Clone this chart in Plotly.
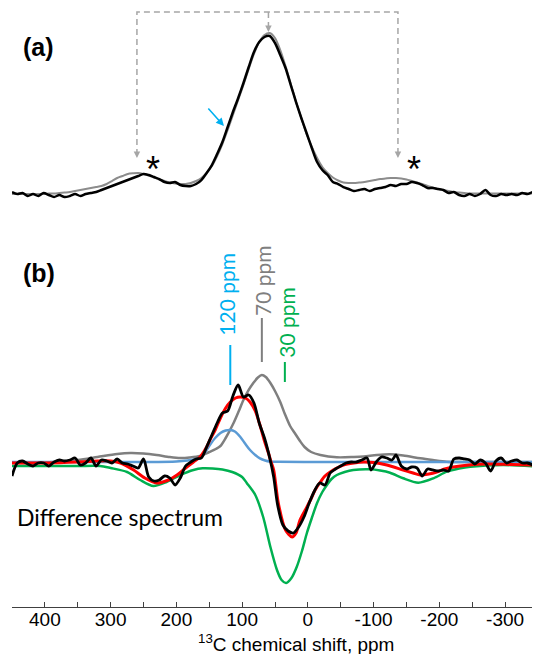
import plotly.graph_objects as go

# ---------------- data (ppm, intensity in arbitrary units) ----------------
# Panel (a): measured spectrum (black) and fitted spectrum (gray)
ppm_a = [450, 442, 434, 426, 418, 410, 402, 394, 386, 378,
         370, 362, 354, 346, 338, 330, 322, 314, 306, 298,
         290, 282, 274, 266, 258, 250, 242, 234, 226, 218,
         210, 202, 194, 186, 178, 170, 162, 154, 146, 138,
         130, 122, 114, 106, 98, 90, 82, 74, 66, 58,
         50, 42, 34, 26, 18, 10, 2, -6, -14, -22,
         -30, -38, -46, -54, -62, -70, -78, -86, -94, -102,
         -110, -118, -126, -134, -142, -150, -158, -166, -174, -182,
         -190, -198, -206, -214, -222, -230, -238, -246, -254, -262,
         -270, -278, -286, -294, -302, -310, -318, -326, -334, -342,
         -350]
measured_a = [1, -1, 0, -3, -1, -3, 0, -2, -4, -2,
              -4, -3, -1, -3, -1, 0, 1, 3, 5, 7,
              9, 11, 13, 15, 17, 19, 18, 16, 14, 11,
              10, 11, 8, 7, 7, 9, 13, 20, 28, 39,
              51, 66, 81, 95, 110, 126, 141, 151, 156, 157,
              150, 138, 125, 108, 91, 75, 60, 45, 31, 23,
              18, 11, 9, 6, 4, 2, 3, 4, 2, 4,
              5, 6, 8, 7, 9, 9, 11, 10, 8, 5,
              5, 4, 3, 0, 1, -2, -3, -1, -3, -1,
              3, -2, -3, -1, -2, -1, -2, 0, -1, 1,
              0]
fit_a = [-1, -1, -1, -1, -1, -1, -1, -0.5, -0.5, 0,
         0.5, 1, 2, 3, 4, 5, 6, 7, 9, 12,
         15, 17, 19, 19.7, 20, 19, 17.5, 15.5, 13.5, 12,
         10.5, 9.5, 9, 9, 10, 12, 15, 20, 27, 37,
         49, 63, 78, 93, 108, 124, 139, 151, 158, 160,
         155, 143, 127, 109, 91, 75, 59, 46, 35, 26,
         20, 15.5, 12.5, 10.5, 10, 10, 10.5, 11, 12, 13,
         14, 14.5, 15, 15, 14.5, 13.5, 12, 10.5, 9, 7,
         5.5, 4, 3, 2, 1, 0.5, 0, -0.5, -0.5, -0.5,
         -0.5, -0.5, -0.5, -0.5, -0.5, -0.5, -0.5, -0.5, -0.5, -0.5,
         -0.5]

# Panel (b): difference spectrum (black) and its components
diff_ppm = [450, 442, 434, 426, 418, 410, 402, 394, 386, 378,
            370, 362, 354, 346, 338, 330, 322, 314, 306, 298,
            290, 282, 274, 266, 258, 250, 242, 234, 226, 218,
            210, 202, 194, 186, 178, 170, 162, 154, 146, 138,
            130, 122, 114, 106, 98, 90, 82, 74, 66, 58,
            52, 46, 38, 30, 22, 14, 6, -2, -10, -18,
            -26, -34, -42, -50, -58, -66, -74, -82, -90,
            -96, -104, -112, -120, -128, -134, -142, -150, -158, -166,
            -174, -182, -190, -198, -206, -214, -222, -230, -238, -246,
            -254, -262, -270, -278, -286, -294, -302, -310, -318, -326,
            -334, -342, -350]
diff_int = [-13, 0, 2, -1, -3, 0, 0, -3, 1, 3,
            2, 3, 5, -2, 0, 5, -3, 3, 2, 0,
            4, 0, -1, -3, -5, 4, -14, -18, -17, -13,
            -15, -22, -15, -3, 1, 4, 5, 16, 28, 40,
            50, 52, 67, 78, 66, 68, 60, 40, 25, 5,
            -14, -42, -62, -68, -70, -64, -54, -40, -28, -20,
            -22, -10, -6, -3, 0, 1, 1, 3, 5,
            -7, 1, 6, 5, 3, 8, -3, -6, -4, -5,
            -13, -6, -7, -8, -7, -8, 4, 5, 4, 3,
            -1, 3, 0, -8, 2, 5, 0, 2, 3, 0,
            0, -2, -6]

sum_ppm = [450, 400, 350, 320, 300, 285, 265, 248, 230, 212,
           199, 186, 174, 164, 154, 149, 141, 133, 125, 118,
           110, 103, 95, 88, 80, 72, 66, 60, 56, 52,
           45, 34, 24, 18, 12, 4, -4, -11, -19, -26,
           -34, -44, -54, -70, -85, -100, -120, -145, -160, -171,
           -184, -196, -208, -221, -245, -272, -310, -350]
sum_int = [0, 0, 1, 2, 2, 0, -7, -15, -20, -17,
           -12, -5, 1, 6, 16, 23, 33, 45, 55, 61,
           65, 66, 65, 61, 52, 36, 22, 10, 1, -7,
           -40, -67, -74, -70, -57, -47, -37, -27, -19, -13,
           -9, -5, -2, 0, 1, 0.5, -2, -7, -10, -12,
           -11, -9, -6, -4, -2, -1, -1.5, -2]

c70_ppm = [450, 400, 350, 320, 290, 270, 250, 230, 210, 194,
           180, 164, 150, 140, 133, 125, 113, 105, 98, 90,
           83, 76, 70, 64, 57, 50, 42, 35, 27, 20,
           12, 5, -5, -19, -44, -70, -85, -105, -125, -145,
           -171, -190, -211, -250, -350]
c70_int = [0, 0.5, 3, 6, 9, 10, 9.5, 8, 6, 5,
           5.5, 7, 11, 14, 17, 25, 40, 52, 63, 73,
           80, 85.5, 88, 86, 80, 72, 61, 49, 37, 30,
           22, 16, 11, 8, 5.7, 6, 6.5, 8, 8.7, 7.5,
           4.7, 3, 1.3, 1, 1]

c120_ppm = [450, 250, 200, 183, 170, 164, 156, 149, 141, 133,
            125, 118, 111, 103, 95, 88, 80, 73, 65, 58,
            45, 0, -350]
c120_int = [1, 1, 1.5, 2.5, 4, 5.5, 11, 18, 25, 30,
            32.5, 33, 31.5, 26.3, 19, 13, 8, 4.7, 2.5, 1.5,
            1.2, 1, 1]

c30_ppm = [450, 400, 350, 316, 300, 275, 255, 235, 215, 194,
           174, 160, 145, 130, 115, 100, 93, 80, 68, 57,
           47, 40, 33, 25, 17, 9, 1.5, -6, -14, -22,
           -29, -36, -44, -56, -69, -95, -110, -125, -145, -168,
           -191, -211, -230, -247, -297, -350]
c30_int = [-3, -3, -3, -3, -5, -9, -17, -23, -19, -12,
           -7, -5.3, -5.5, -6.5, -9, -14, -20, -32, -54, -84,
           -107, -117, -120, -115, -104, -88, -70, -55, -40, -29,
           -22, -16, -12, -9, -7, -6.3, -7.5, -9.7, -15.3, -19.7,
           -15.3, -8.7, -5.5, -3.7, -2, -3.7]

tick_vals = [400, 350, 300, 250, 200, 150, 100, 50, 0, -50, -100, -150, -200, -250, -300]
tick_text = ["400", "", "300", "", "200", "", "100", "", "0", "", "-100", "", "-200", "", "-300"]

# centre band and the two spinning sidebands marked in panel (a)
band_ppm = [260, 60, -137]
label_ppm = [120, 70, 30]

# ---------------- styles ----------------
BLACK = "#000000"
GRAY_A = "#8c8c8c"
GRAY = "#7f7f7f"
RED = "#ff0000"
BLUE_C = "#5b9bd5"
GREEN = "#00b050"
CYAN = "#00b0f0"
DASH = "#a6a6a6"
LATO = "Lato, Carlito, Calibri, sans-serif"
ARIAL = "Arial, Liberation Sans, sans-serif"

fig = go.Figure()

# panel (a)
fig.add_trace(go.Scatter(x=ppm_a, y=fit_a, mode="lines", xaxis="x", yaxis="y2",
                         line=dict(color=GRAY_A, width=2, shape="spline", smoothing=0.8)))
fig.add_trace(go.Scatter(x=ppm_a, y=measured_a, mode="lines", xaxis="x", yaxis="y2",
                         line=dict(color=BLACK, width=2.5, shape="spline", smoothing=0.8)))

# panel (b)
fig.add_trace(go.Scatter(x=c70_ppm, y=c70_int, mode="lines", xaxis="x", yaxis="y",
                         line=dict(color=GRAY, width=2.5, shape="spline", smoothing=0.8)))
fig.add_trace(go.Scatter(x=c120_ppm, y=c120_int, mode="lines", xaxis="x", yaxis="y",
                         line=dict(color=BLUE_C, width=2.5, shape="spline", smoothing=0.8)))
fig.add_trace(go.Scatter(x=c30_ppm, y=c30_int, mode="lines", xaxis="x", yaxis="y",
                         line=dict(color=GREEN, width=2.5, shape="spline", smoothing=0.8)))
fig.add_trace(go.Scatter(x=sum_ppm, y=sum_int, mode="lines", xaxis="x", yaxis="y",
                         line=dict(color=RED, width=3, shape="spline", smoothing=0.8)))
fig.add_trace(go.Scatter(x=diff_ppm, y=diff_int, mode="lines", xaxis="x", yaxis="y",
                         line=dict(color=BLACK, width=2.8, shape="spline", smoothing=0.8)))

shapes = []
top_a = 181
# dashed connector above panel (a)
shapes.append(dict(type="path", xref="x", yref="y2",
                   path=f"M {band_ppm[0]},38 L {band_ppm[0]},{top_a} L {band_ppm[2]},{top_a} L {band_ppm[2]},38",
                   line=dict(color=DASH, width=1.5, dash="6px,4px")))
shapes.append(dict(type="line", xref="x", yref="y2", x0=band_ppm[1], x1=band_ppm[1], y0=top_a, y1=164,
                   line=dict(color=DASH, width=1.5, dash="6px,4px")))
# label tick lines in panel (b)
shapes.append(dict(type="line", xref="x", yref="y", x0=118, x1=118, y0=78, y1=118,
                   line=dict(color=CYAN, width=2)))
shapes.append(dict(type="line", xref="x", yref="y", x0=70, x1=70, y0=101, y1=145,
                   line=dict(color=GRAY, width=2)))
shapes.append(dict(type="line", xref="x", yref="y", x0=35, x1=35, y0=81, y1=101,
                   line=dict(color=GREEN, width=2)))

ann = []
# arrowheads of the dashed connector
for p, ytip in [(band_ppm[0], 35), (band_ppm[1], 161), (band_ppm[2], 35)]:
    ann.append(dict(x=p, y=ytip, xref="x", yref="y2", ax=0, ay=-7, text="", showarrow=True,
                    arrowhead=2, arrowsize=1, arrowwidth=1.3, arrowcolor=DASH))
# blue arrow in (a)
ann.append(dict(x=127.6, y=67, xref="x", yref="y2", ax=-17, ay=-19, text="", showarrow=True,
                arrowhead=2, arrowsize=1, arrowwidth=1.6, arrowcolor=CYAN))
# asterisks
for p in [236, -161]:
    ann.append(dict(x=p, y=24, xref="x", yref="y2", text="*", showarrow=False,
                    font=dict(family=ARIAL, size=36, color=BLACK), xanchor="center", yanchor="middle"))
# panel labels
ann.append(dict(x=409, y=146, xref="x", yref="y2", text="<b>(a)</b>", showarrow=False,
                font=dict(family=ARIAL, size=25, color=BLACK), xanchor="center", yanchor="middle"))
ann.append(dict(x=409, y=190, xref="x", yref="y", text="<b>(b)</b>", showarrow=False,
                font=dict(family=ARIAL, size=25, color=BLACK), xanchor="center", yanchor="middle"))
# rotated component labels
ann.append(dict(x=123.5, y=169, xref="x", yref="y", text=f"{label_ppm[0]} ppm", textangle=-90, showarrow=False,
                font=dict(family=LATO, size=21, color=CYAN), xanchor="center", yanchor="middle"))
ann.append(dict(x=68.3, y=183, xref="x", yref="y", text=f"{label_ppm[1]} ppm", textangle=-90, showarrow=False,
                font=dict(family=LATO, size=21, color=GRAY), xanchor="center", yanchor="middle"))
ann.append(dict(x=32.2, y=141, xref="x", yref="y", text=f"{label_ppm[2]} ppm", textangle=-90, showarrow=False,
                font=dict(family=LATO, size=21, color=GREEN), xanchor="center", yanchor="middle"))
# difference spectrum label
ann.append(dict(x=286, y=-54, xref="x", yref="y", text="Difference spectrum", showarrow=False,
                font=dict(family=LATO, size=23, color=BLACK), xanchor="center", yanchor="middle"))
# axis title
ann.append(dict(x=0.5407, y=-0.0601, xref="paper", yref="paper", text="<sup>13</sup>C chemical shift, ppm",
                showarrow=False, font=dict(family=ARIAL, size=19, color=BLACK),
                xanchor="center", yanchor="middle"))

# The page body adds an 8 px offset, so margins are set to compensate.
fig.update_layout(
    width=540, height=654,
    margin=dict(l=4, r=10, t=0, b=55),
    paper_bgcolor="white", plot_bgcolor="white",
    showlegend=False,
    xaxis=dict(range=[450, -350], showgrid=False, zeroline=False,
               showline=True, linecolor="#404040", linewidth=1,
               ticks="inside", ticklen=5, tickwidth=1, tickcolor="#404040",
               tickmode="array", tickvals=tick_vals, ticktext=tick_text,
               ticklabelstandoff=-5,
               tickfont=dict(family=ARIAL, size=19, color=BLACK), anchor="y"),
    yaxis=dict(domain=[0, 0.6294], range=[-144, 233], visible=False, anchor="x"),
    yaxis2=dict(domain=[0.6544, 1], range=[-22, 185], visible=False, anchor="x"),
    shapes=shapes, annotations=ann,
)

fig.write_html("out.html")
